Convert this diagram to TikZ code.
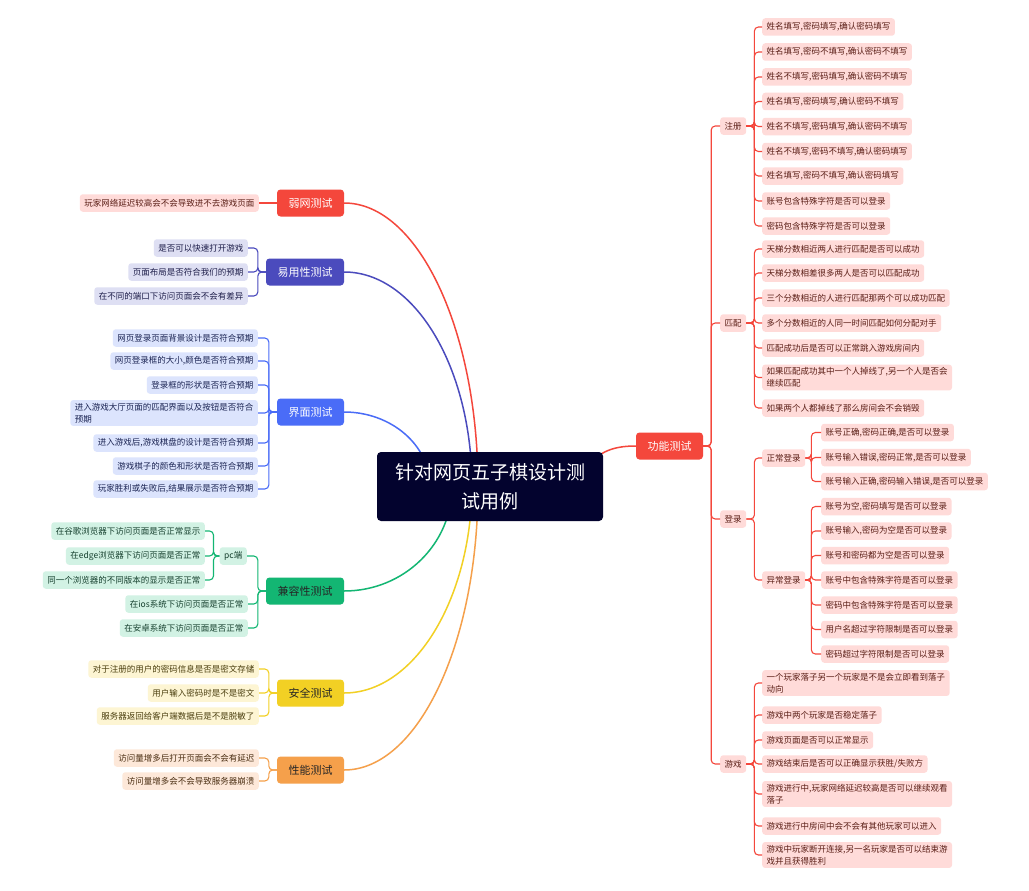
\documentclass[tikz,border=0pt]{standalone}
\usepackage{fontspec}
\newfontfamily\cjk{Noto Sans CJK SC}
\usetikzlibrary{backgrounds}
\definecolor{fnred}{HTML}{F4473C}
\definecolor{fnredbg}{HTML}{FFDBD9}
\definecolor{fnredtx}{HTML}{5A1E16}
\definecolor{usindigo}{HTML}{4B4BBD}
\definecolor{usindigobg}{HTML}{DEDFF3}
\definecolor{usindigotx}{HTML}{1E1E4A}
\definecolor{uiblue}{HTML}{4A6CF7}
\definecolor{uibluebg}{HTML}{DCE4FD}
\definecolor{uibluetx}{HTML}{1A2352}
\definecolor{cpgreen}{HTML}{13B673}
\definecolor{cpgreenbg}{HTML}{D2F2E4}
\definecolor{cpgreentx}{HTML}{16402E}
\definecolor{sfyellow}{HTML}{F2D024}
\definecolor{sfyellowbg}{HTML}{FDF5D3}
\definecolor{sfyellowtx}{HTML}{4A3E0E}
\definecolor{pforange}{HTML}{F5A04B}
\definecolor{pforangebg}{HTML}{FDE8D9}
\definecolor{pforangetx}{HTML}{4A2E12}
\definecolor{rootbg}{HTML}{03032E}
\tikzset{
	leaf/.style={rounded corners=3pt, inner xsep=4.5pt, inner ysep=3pt, minimum height=17.5pt, align=left, font=\cjk\fontsize{8.5}{12}\selectfont},
	fnleaf/.style={leaf, fill=fnredbg, text=fnredtx},
	usleaf/.style={leaf, fill=usindigobg, text=usindigotx},
	uileaf/.style={leaf, fill=uibluebg, text=uibluetx},
	cpleaf/.style={leaf, fill=cpgreenbg, text=cpgreentx},
	sfleaf/.style={leaf, fill=sfyellowbg, text=sfyellowtx},
	pfleaf/.style={leaf, fill=pforangebg, text=pforangetx},
	topic/.style={rounded corners=3.5pt, inner xsep=11.5pt, minimum height=27pt, font=\cjk\fontsize{11}{13}\selectfont},
	branch/.style={line width=1.5pt},
	twig/.style={line width=1.1pt, rounded corners=4pt}
}
\begin{document}
\begin{tikzpicture}[x=1pt,y=1pt]
\useasboundingbox (0,0) rectangle (1029,-891);
\node[fill=rootbg, text=white, rounded corners=4pt, minimum width=226pt, minimum height=69pt, align=center, font=\cjk\fontsize{19}{29}\selectfont] (root) at (490,-486.5) {针对网页五子棋设计测\\试用例};
\node[topic, fill=fnred, text=white] (gn) at (669.5,-446) {功能测试};
\node[topic, fill=fnred, text=white] (rw) at (310.5,-203) {弱网测试};
\node[topic, fill=usindigo, text=white] (yy) at (305,-272) {易用性测试};
\node[topic, fill=uiblue, text=white] (jm) at (310.5,-412) {界面测试};
\node[topic, fill=cpgreen, text=black!85] (jr) at (305,-591) {兼容性测试};
\node[topic, fill=sfyellow, text=black!85] (aq) at (310.5,-693) {安全测试};
\node[topic, fill=pforange, text=black!85] (xn) at (310.5,-770) {性能测试};

\node[fnleaf, anchor=east] (rw1) at (259,-203) {玩家网络延迟较高会不会导致进不去游戏页面};
\draw[twig, fnred] (rw.west) -- (rw1.east);
\foreach \y/\t [count=\i] in {248/{是否可以快速打开游戏}, 272/{页面布局是否符合我们的预期}, 296/{在不同的端口下访问页面会不会有差异}}{
	\node[usleaf, anchor=east] (yy\i) at (248,-\y) {\t};
	\draw[twig, usindigo] (yy.west) -- ++(-8,0) |- (yy\i.east);
}
\foreach \y/\t [count=\i] in {338/{网页登录页面背景设计是否符合预期}, 361/{网页登录框的大小,颜色是否符合预期}, 385/{登录框的形状是否符合预期}, 413/{进入游戏大厅页面的匹配界面以及按钮是否符合\\预期}, 443/{进入游戏后,游戏棋盘的设计是否符合预期}, 466/{游戏棋子的颜色和形状是否符合预期}, 489/{玩家胜利或失败后,结果展示是否符合预期}}{
	\node[uileaf, anchor=east] (jm\i) at (258,-\y) {\t};
	\draw[twig, uiblue] (jm.west) -- ++(-8,0) |- (jm\i.east);
}
\node[cpleaf, anchor=east] (pc) at (247,-556) {pc端};
\draw[twig, cpgreen] (jr.west) -- ++(-8,0) |- (pc.east);
\foreach \y/\t [count=\i] in {531/{在谷歌浏览器下访问页面是否正常显示}, 556/{在edge浏览器下访问页面是否正常}, 580/{同一个浏览器的不同版本的显示是否正常}}{
	\node[cpleaf, anchor=east] (pc\i) at (205,-\y) {\t};
	\draw[twig, cpgreen] (pc.west) -- ++(-6,0) |- (pc\i.east);
}
\foreach \y/\t [count=\i] in {604/{在ios系统下访问页面是否正常}, 628/{在安卓系统下访问页面是否正常}}{
	\node[cpleaf, anchor=east] (jr\i) at (248,-\y) {\t};
	\draw[twig, cpgreen] (jr.west) -- ++(-8,0) |- (jr\i.east);
}
\foreach \y/\t [count=\i] in {669/{对于注册的用户的密码信息是否是密文存储}, 693/{用户输入密码时是不是密文}, 716/{服务器返回给客户端数据后是不是脱敏了}}{
	\node[sfleaf, anchor=east] (aq\i) at (259,-\y) {\t};
	\draw[twig, sfyellow] (aq.west) -- ++(-8,0) |- (aq\i.east);
}
\foreach \y/\t [count=\i] in {758/{访问量增多后打开页面会不会有延迟}, 781/{访问量增多会不会导致服务器崩溃}}{
	\node[pfleaf, anchor=east] (xn\i) at (259,-\y) {\t};
	\draw[twig, pforange] (xn.west) -- ++(-8,0) |- (xn\i.east);
}

\foreach \y/\t/\n in {126/{注册}/zc, 323/{匹配}/pp, 519/{登录}/dl, 764/{游戏}/yx}{
	\node[fnleaf, anchor=west] (\n) at (720,-\y) {\t};
	\draw[twig, fnred] (gn.east) -- ++(8,0) |- (\n.west);
}
\foreach \y/\t [count=\i] in {27/{姓名填写,密码填写,确认密码填写}, 52/{姓名填写,密码不填写,确认密码不填写}, 77/{姓名不填写,密码填写,确认密码不填写}, 101.5/{姓名填写,密码填写,确认密码不填写}, 126.5/{姓名不填写,密码填写,确认密码不填写}, 151.5/{姓名不填写,密码不填写,确认密码填写}, 176/{姓名填写,密码不填写,确认密码填写}, 201/{账号包含特殊字符是否可以登录}, 226/{密码包含特殊字符是否可以登录}}{
	\node[fnleaf, anchor=west] (zc\i) at (762,-\y) {\t};
	\draw[twig, fnred] (zc.east) -- ++(8,0) |- (zc\i.west);
}
\foreach \y/\t [count=\i] in {249/{天梯分数相近两人进行匹配是否可以成功}, 273/{天梯分数相差很多两人是否可以匹配成功}, 298/{三个分数相近的人进行匹配那两个可以成功匹配}, 323/{多个分数相近的人同一时间匹配如何分配对手}, 348/{匹配成功后是否可以正常跳入游戏房间内}, 377.5/{如果匹配成功其中一个人掉线了,另一个人是否会\\继续匹配}, 408/{如果两个人都掉线了那么房间会不会销毁}}{
	\node[fnleaf, anchor=west] (pp\i) at (762,-\y) {\t};
	\draw[twig, fnred] (pp.east) -- ++(8,0) |- (pp\i.west);
}
\foreach \y/\t/\n in {458/{正常登录}/zcdl, 580/{异常登录}/ycdl}{
	\node[fnleaf, anchor=west] (\n) at (762,-\y) {\t};
	\draw[twig, fnred] (dl.east) -- ++(8,0) |- (\n.west);
}
\foreach \y/\t [count=\i] in {432.5/{账号正确,密码正确,是否可以登录}, 457.5/{账号输入错误,密码正常,是否可以登录}, 481.5/{账号输入正确,密码输入错误,是否可以登录}}{
	\node[fnleaf, anchor=west] (zcdl\i) at (821,-\y) {\t};
	\draw[twig, fnred] (zcdl.east) -- ++(6,0) |- (zcdl\i.west);
}
\foreach \y/\t [count=\i] in {506.5/{账号为空,密码填写是否可以登录}, 531/{账号输入,密码为空是否可以登录}, 555.5/{账号和密码都为空是否可以登录}, 580/{账号中包含特殊字符是否可以登录}, 605/{密码中包含特殊字符是否可以登录}, 629.5/{用户名超过字符限制是否可以登录}, 654/{密码超过字符限制是否可以登录}}{
	\node[fnleaf, anchor=west] (ycdl\i) at (821,-\y) {\t};
	\draw[twig, fnred] (ycdl.east) -- ++(6,0) |- (ycdl\i.west);
}
\foreach \y/\t [count=\i] in {683/{一个玩家落子另一个玩家是不是会立即看到落子\\动向}, 715/{游戏中两个玩家是否稳定落子}, 740/{游戏页面是否可以正常显示}, 764/{游戏结束后是否可以正确显示获胜/失败方}, 794/{游戏进行中,玩家网络延迟较高是否可以继续观看\\落子}, 826/{游戏进行中房间中会不会有其他玩家可以进入}, 855/{游戏中玩家断开连接,另一名玩家是否可以结束游\\戏并且获得胜利}}{
	\node[fnleaf, anchor=west] (yx\i) at (762,-\y) {\t};
	\draw[twig, fnred] (yx.east) -- ++(8,0) |- (yx\i.west);
}

\begin{pgfonlayer}{background}
\fill[white] (0,0) rectangle (1029,-891);
\draw[branch, fnred] (gn.west) .. controls (612,-446) and (595,-452) .. ([xshift=90pt,yshift=10pt]root.center);
\draw[branch, fnred] (rw.east) .. controls (418,-203) and (478,-330) .. ([xshift=-12pt]root.center);
\draw[branch, usindigo] (yy.east) .. controls (415,-272) and (472,-368) .. ([xshift=-18pt]root.center);
\draw[branch, uiblue] (jm.east) .. controls (391,-412) and (430,-445) .. ([xshift=-60pt]root.center);
\draw[branch, cpgreen] (jr.east) .. controls (404,-591) and (452,-544) .. ([xshift=-38pt]root.center);
\draw[branch, sfyellow] (aq.east) .. controls (414,-693) and (471,-600) .. ([xshift=-18pt]root.center);
\draw[branch, pforange] (xn.east) .. controls (418,-770) and (478,-643) .. ([xshift=-12pt]root.center);
\end{pgfonlayer}
\end{tikzpicture}
\end{document}
